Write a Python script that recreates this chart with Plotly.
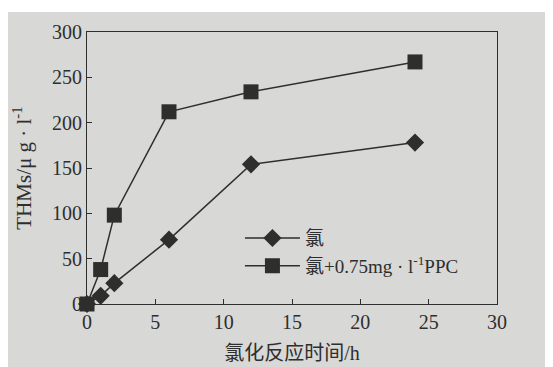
import plotly.graph_objects as go

time_h = [0, 1, 2, 6, 12, 24]
chlorine = [0, 9, 23, 71, 154, 178]
chlorine_ppc = [0, 38, 98, 212, 234, 267]

name_cl = "氯"
name_ppc = "氯+0.75mg · l<sup>-1</sup>PPC"

ink = "#2e2e2e"
font_family = "Liberation Serif, Noto Sans CJK SC, serif"

fig = go.Figure()
fig.add_trace(go.Scatter(
    x=time_h, y=chlorine, mode="lines+markers", name=name_cl,
    line=dict(color=ink, width=1.5),
    marker=dict(symbol="diamond", size=14, color=ink),
    cliponaxis=False,
))
fig.add_trace(go.Scatter(
    x=time_h, y=chlorine_ppc, mode="lines+markers", name=name_ppc,
    line=dict(color=ink, width=1.5),
    marker=dict(symbol="square", size=15, color=ink),
    cliponaxis=False,
))

axis_common = dict(
    showline=True, linecolor=ink, linewidth=1.2, mirror=True,
    ticks="inside", ticklen=5, tickcolor=ink, tickwidth=1.2,
    showgrid=False, zeroline=False, automargin=False,
    tickfont=dict(family=font_family, size=20, color=ink),
)

fig.update_layout(
    width=545, height=359,
    margin=dict(l=79, r=56, t=24, b=63),
    paper_bgcolor="#d8d8d6",
    plot_bgcolor="#d8d8d6",
    font=dict(family=font_family, color=ink),
    xaxis=dict(range=[0, 30], dtick=5,
               title=dict(text="氯化反应时间/h", standoff=13,
                          font=dict(family=font_family, size=20, color=ink)),
               **axis_common),
    yaxis=dict(range=[0, 300], dtick=50,
               title=dict(text="THMs/μ g · l<sup>-1</sup>", standoff=14,
                          font=dict(family=font_family, size=21, color=ink)),
               **axis_common),
    legend=dict(x=0.373, y=0.312, xanchor="left", yanchor="top",
                bgcolor="rgba(0,0,0,0)", borderwidth=0,
                itemwidth=55,
                font=dict(family=font_family, size=19, color=ink),
                tracegroupgap=7),
    showlegend=True,
    shapes=[dict(type="rect", xref="paper", yref="paper",
                 x0=-0.3, x1=1.2, y0=1.0 + 20 / 272, y1=1.2,
                 fillcolor="white", line=dict(width=0), layer="below")],
)

fig.write_html("out.html")
